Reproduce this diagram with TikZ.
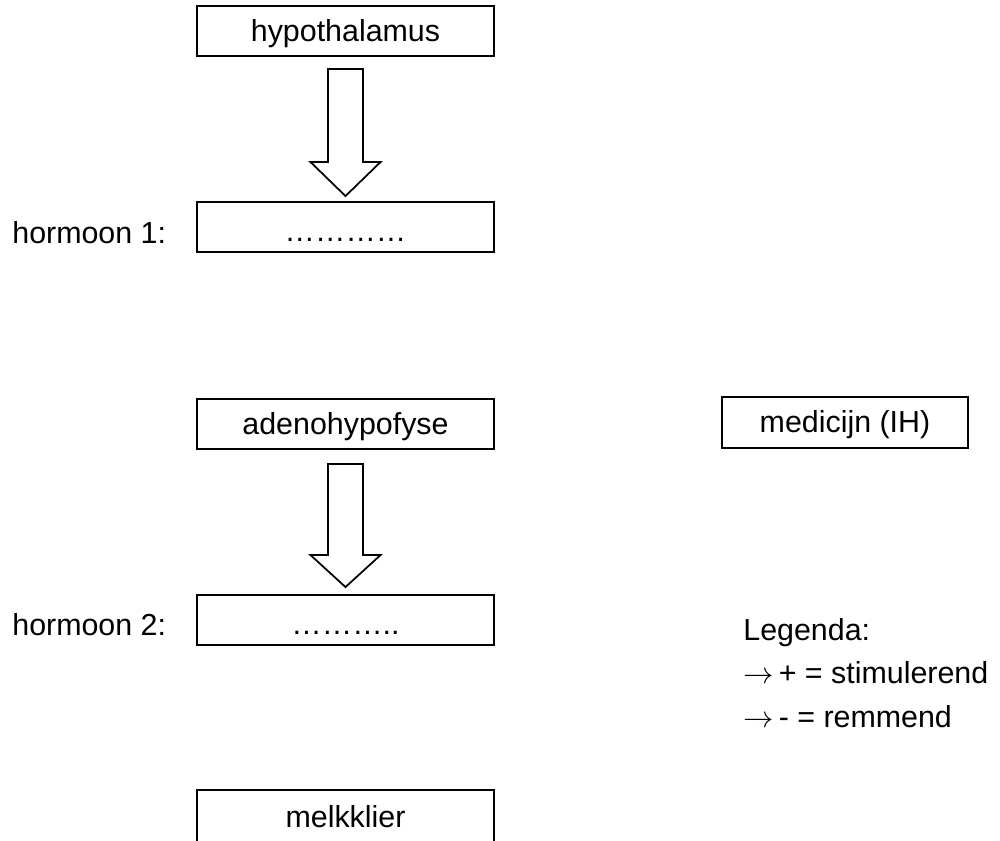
\documentclass[tikz,border=0pt]{standalone}
\usepackage{fontspec}
\setmainfont{Liberation Sans}
\usetikzlibrary{calc}

\tikzset{
  organ/.style={draw, line width=1.1pt, minimum width=5.94cm, minimum height=1cm,
    inner sep=0pt, text height=0.4cm, text depth=0cm},
  blank/.style={organ, text height=0.56cm},
  hollow/.style={draw, line width=1pt, fill=white, line join=miter},
  legtext/.style={anchor=base west, inner sep=0pt}
}

\begin{document}
\begin{tikzpicture}[x=0.02cm, y=-0.02cm, font=\fontsize{17.3pt}{20pt}\selectfont]
                % Frame (page size)
                \useasboundingbox (0,0) rectangle (1000,840);
                \clip (0,0) rectangle (1000,840);

                % --- BOXES ---
                \node[organ] (hypo) at (345.5,31) {hypothalamus};
                \node[blank] (horm1) at (345.5,227) {…………};
                \node[organ] (adeno) at (345.5,424) {adenohypofyse};
                \node[blank] (horm2) at (345.5,620) {………..};
                \node[organ, minimum height=1.08cm] (melk) at (345.5,817) {melkklier};
                \node[organ, minimum width=4.92cm, minimum height=1.02cm] (medi) at (845,422.5) {medicijn (IH)};

                % Row labels (left side)
                \node[legtext] (lab1) at (12,243) {hormoon 1:};
                \node[legtext] (lab2) at (12,635) {hormoon 2:};

                % --- HOLLOW ARROWS ---
                \coordinate (a1top) at ($(hypo.south)+(0,12)$);
                \coordinate (a1tip) at ($(horm1.north)+(0,-5)$);
                \draw[hollow] ($(a1top)+(-17.5,0)$) -- ($(a1top)+(17.5,0)$)
                  -- ($(a1tip)+(17.5,-34)$) -- ($(a1tip)+(35,-34)$) -- (a1tip)
                  -- ($(a1tip)+(-35,-34)$) -- ($(a1tip)+(-17.5,-34)$) -- cycle;

                \coordinate (a2top) at ($(adeno.south)+(0,14)$);
                \coordinate (a2tip) at ($(horm2.north)+(0,-7)$);
                \draw[hollow] ($(a2top)+(-17.5,0)$) -- ($(a2top)+(17.5,0)$)
                  -- ($(a2tip)+(17.5,-32)$) -- ($(a2tip)+(35,-32)$) -- (a2tip)
                  -- ($(a2tip)+(-35,-32)$) -- ($(a2tip)+(-17.5,-32)$) -- cycle;

                % --- LEGEND ---
                \node[legtext] (leg) at (743,640) {Legenda:};
                \node[legtext] (legplus) at (743,683) {$\rightarrow\,$+ = stimulerend};
                \node[legtext] (legmin) at (743,727) {$\rightarrow\,$- = remmend};
\end{tikzpicture}
\end{document}
